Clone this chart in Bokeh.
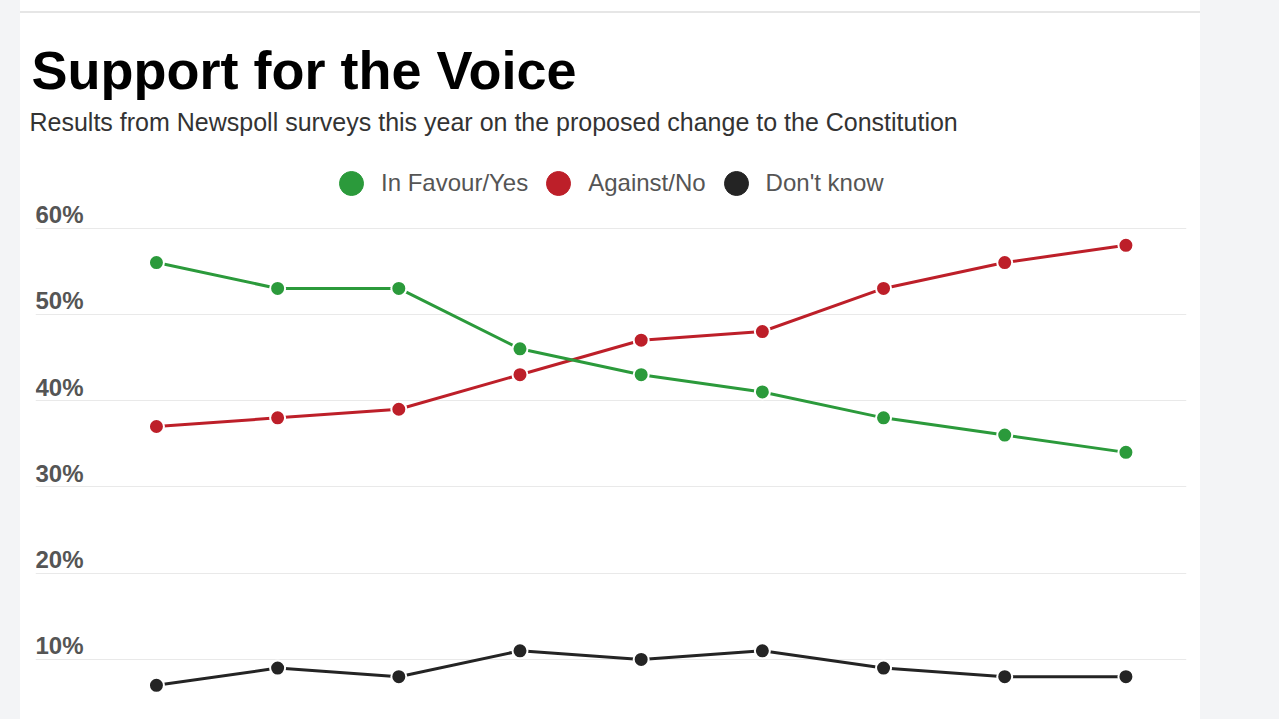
from bokeh.plotting import figure
from bokeh.models import (ColumnDataSource, Legend, LegendItem, Title, FixedTicker,
                          Range1d, Div, Spacer)
from bokeh.layouts import row, column
from bokeh.core.properties import value
from bokeh.embed import file_html
from bokeh.resources import INLINE

# ---- data (Newspoll surveys, in order) ----
surveys = ["Poll 1", "Poll 2", "Poll 3", "Poll 4", "Poll 5",
           "Poll 6", "Poll 7", "Poll 8", "Poll 9"]
in_favour = [56, 53, 53, 46, 43, 41, 38, 36, 34]
against = [37, 38, 39, 43, 47, 48, 53, 56, 58]
dont_know = [7, 9, 8, 11, 10, 11, 9, 8, 8]
y_ticks = [10, 20, 30, 40, 50, 60]
y_tick_labels = ["10%", "20%", "30%", "40%", "50%", "60%"]
series_names = ["In Favour/Yes", "Against/No", "Don't know"]

GREEN = "#2b9a3b"
RED = "#bd1f29"
BLACK = "#242424"
FONT = "Liberation Sans"

xs = list(range(len(surveys)))
src = ColumnDataSource(dict(x=xs, survey=surveys, yes=in_favour, no=against, dk=dont_know))

p = figure(width=1180, height=684, output_backend="svg", toolbar_location=None,
           x_range=Range1d(-0.998, 8.5), y_range=Range1d(3.04, 70.26),
           min_border_left=15, min_border_right=14, min_border_bottom=0,
           min_border_top=0, margin=0)
p.title.visible = False
p.xaxis.visible = False
p.yaxis.visible = False
p.xgrid.visible = False
p.ygrid.ticker = FixedTicker(ticks=y_ticks)
p.ygrid.grid_line_color = "#e9e9e9"
p.ygrid.grid_line_width = 1
p.outline_line_color = None
p.background_fill_color = "white"
p.border_fill_color = "white"

for col, color in (("dk", BLACK), ("no", RED), ("yes", GREEN)):
    p.line("x", col, source=src, line_color=color, line_width=3)
for col, color in (("yes", GREEN), ("no", RED), ("dk", BLACK)):
    p.scatter("x", col, source=src, size=15, fill_color=color,
              line_color="white", line_width=2)

# y tick labels sitting above the gridlines
lab_src = ColumnDataSource(dict(x=[p.x_range.start] * len(y_ticks), y=y_ticks, t=y_tick_labels))
p.text("x", "y", text="t", source=lab_src, text_align="left", text_baseline="bottom",
       y_offset=0, text_font=value(FONT), text_font_size="24px",
       text_font_style="bold", text_color="#555555")

# legend using hidden-point renderers so the glyph can be large
nan = float("nan")
leg_rs = []
for name, color in zip(series_names, (GREEN, RED, BLACK)):
    lr = p.scatter(x=[nan], y=[nan], size=10, fill_color=color, line_color=color)
    leg_rs.append(lr)
legend = Legend(items=[LegendItem(label=n, renderers=[r]) for n, r in zip(series_names, leg_rs)],
                orientation="horizontal", location=(286, 506),
                glyph_width=60, glyph_height=60, label_standoff=0, spacing=0,
                padding=0, margin=0, border_line_color=None, background_fill_color=None,
                background_fill_alpha=0,
                label_text_font=FONT, label_text_font_size="24px",
                label_text_color="#555555", label_text_baseline="middle")
p.add_layout(legend)

sub = Title(text="Results from Newspoll surveys this year on the proposed change to the Constitution",
            text_font=FONT, text_font_size="25px", text_font_style="normal",
            text_color="#333333", align="left", offset=-6, standoff=8)
p.add_layout(sub, "above")
main = Title(text="Support for the Voice", text_font=FONT, text_font_size="54px",
             text_font_style="bold", text_color="#000000", align="left", offset=-4, standoff=4)
p.add_layout(main, "above")

GRAY = "#f3f4f6"
left_strip = Div(width=20, height=719, margin=0, styles={"background-color": GRAY})
right_strip = Div(width=79, height=719, margin=0, styles={"background-color": GRAY})
top_line = Div(width=1180, height=2, margin=0, styles={"background-color": "#e6e6e6"})
layout = row(left_strip,
             column(Spacer(width=1180, height=11, margin=0), top_line,
                    Spacer(width=1180, height=22, margin=0), p, spacing=0, margin=0),
             right_strip, spacing=0, margin=0)

open("out.html", "w").write(file_html(layout, INLINE))
